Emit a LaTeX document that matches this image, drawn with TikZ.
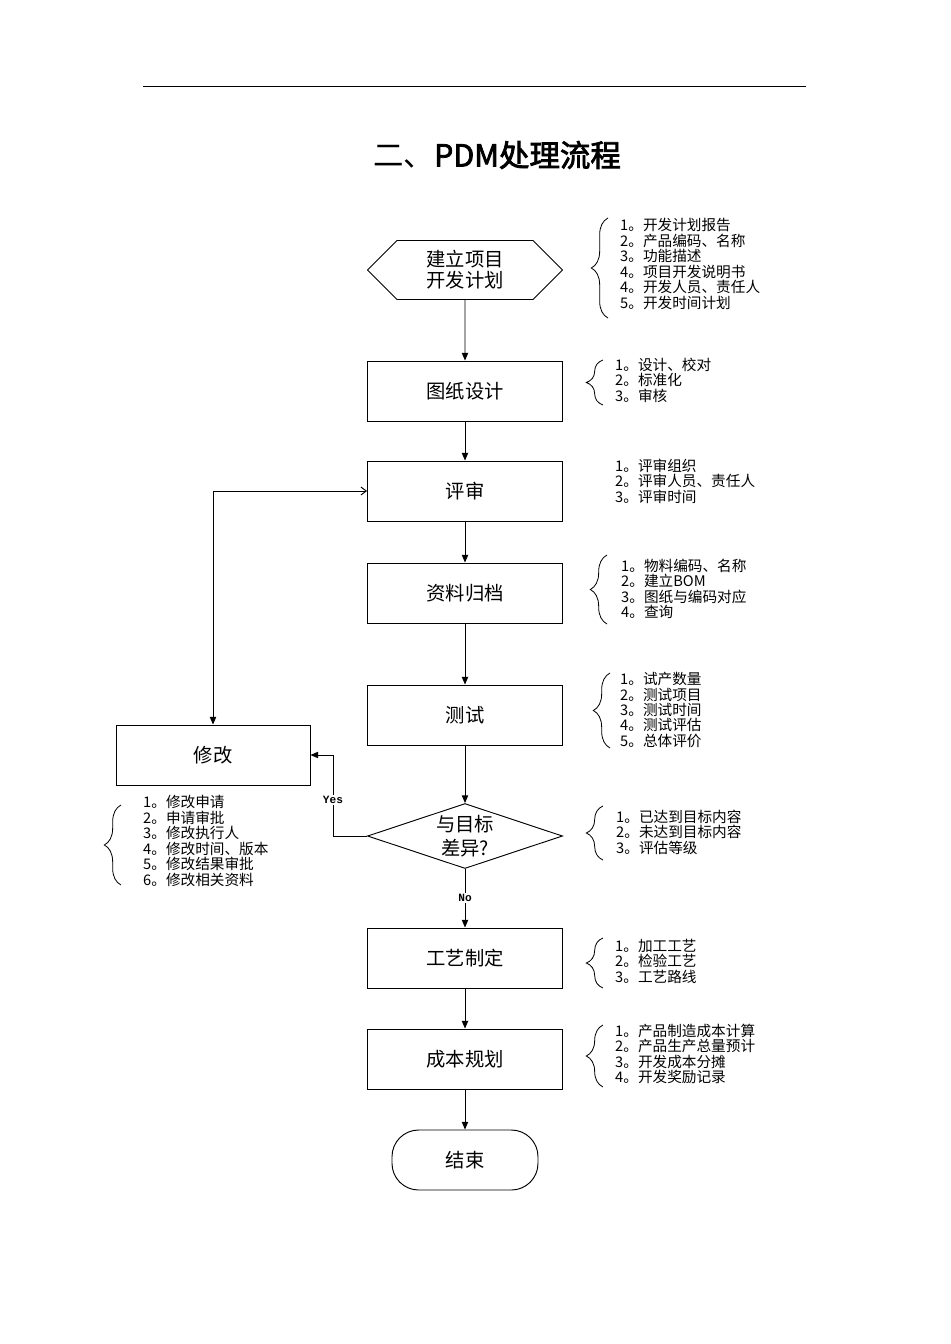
\documentclass[tikz,border=0pt]{standalone}
\usepackage{fontspec}
\setmainfont{Noto Sans CJK SC}[AutoFakeBold=2.5]
\newfontfamily\yesnofont{Liberation Mono}
\usetikzlibrary{shapes.geometric,shapes.symbols,arrows.meta,decorations.pathreplacing}
\begin{document}
\begin{tikzpicture}[x=0.03cm,y=-0.03cm,
        flowbox/.style={draw, line width=0.8pt, minimum width=5.85cm, minimum height=1.8cm,
                        align=center, font=\fontsize{16.5}{18}\selectfont},
        notes/.style={anchor=west, align=left, inner sep=0pt,
                        font=\fontsize{12.5}{13.2}\selectfont},
        curly/.style={decorate, line width=0.7pt, decoration={brace, amplitude=0.5cm}},
        arr/.style={-{Triangle[length=2.3mm,width=1.9mm]}, line width=0.8pt},
        yesno/.style={fill=white, inner sep=1pt, font=\yesnofont\bfseries\fontsize{9.5}{10}\selectfont}]
        \useasboundingbox (0,0) rectangle (950,1344);
        % header
        \draw [line width=0.8pt] (143,86) -- (806,86);
        \node (title) at (497,155) {\fontsize{26}{28}\selectfont 二、\textbf{PDM处理流程}};
        % main flow
        \node [flowbox, shape=signal, signal to=west and east, signal pointer angle=90,
               minimum height=1.77cm] (plan) at (465,270) {建立项目\\开发计划};
        \node [flowbox] (design) at (465,391) {图纸设计};
        \node [flowbox] (review) at (465,491) {评审};
        \node [flowbox] (archive) at (465,593) {资料归档};
        \node [flowbox] (test) at (465,715) {测试};
        \node [flowbox, shape=diamond, aspect=3, inner sep=0pt, minimum height=1.95cm,
               font=\fontsize{16.5}{20}\selectfont] (diff) at (465,836) {与目标\\差异?};
        \node [flowbox] (craft) at (465,958) {工艺制定};
        \node [flowbox] (cost) at (465,1059) {成本规划};
        \node [flowbox, rounded corners=0.8cm, minimum width=4.38cm] (finish) at (465,1160) {结束};
        \node [flowbox, minimum width=5.82cm] (modify) at (213,755) {修改};
        \coordinate (yesturn) at (333,836);
        \draw [arr] (plan) -- (design);
        \draw [arr] (design) -- (review);
        \draw [arr] (review) -- (archive);
        \draw [arr] (archive) -- (test);
        \draw [arr] (test) -- (diff);
        \draw [arr] (diff) -- node[yesno] {No} (craft);
        \draw [arr] (craft) -- (cost);
        \draw [arr] (cost) -- (finish);
        \draw [arr] (diff.west) -- (yesturn) |- node[yesno, pos=0.22] {Yes} (modify.east);
        \draw [{Triangle[length=2.3mm,width=1.9mm]}-{Straight Barb[length=1.6mm,width=2.4mm]},
               line width=0.8pt] (modify.north) |- (review.west);
        % side notes
        \draw [curly] (608,318) -- (608,218);
        \node [notes] (plannotes) at (620,264) {1。开发计划报告\\2。产品编码、名称\\3。功能描述\\4。项目开发说明书\\4。开发人员、责任人\\5。开发时间计划};
        \draw [curly] (603,405) -- (603,360);
        \node [notes] (designnotes) at (615,380) {1。设计、校对\\2。标准化\\3。审核};
        \node [notes] (reviewnotes) at (615,481) {1。评审组织\\2。评审人员、责任人\\3。评审时间};
        \draw [curly] (607,624) -- (607,555);
        \node [notes] (archivenotes) at (621,589) {1。物料编码、名称\\2。建立BOM\\3。图纸与编码对应\\4。查询};
        \draw [curly] (610,748) -- (610,673);
        \node [notes] (testnotes) at (620,710) {1。试产数量\\2。测试项目\\3。测试时间\\4。测试评估\\5。总体评价};
        \draw [curly] (121,885) -- (121,805);
        \node [notes] (modifynotes) at (143,841) {1。修改申请\\2。申请审批\\3。修改执行人\\4。修改时间、版本\\5。修改结果审批\\6。修改相关资料};
        \draw [curly] (603,860) -- (603,806);
        \node [notes] (diffnotes) at (616,832) {1。已达到目标内容\\2。未达到目标内容\\3。评估等级};
        \draw [curly] (603,988) -- (603,938);
        \node [notes] (craftnotes) at (615,961) {1。加工工艺\\2。检验工艺\\3。工艺路线};
        \draw [curly] (603,1087) -- (603,1025);
        \node [notes] (costnotes) at (615,1054) {1。产品制造成本计算\\2。产品生产总量预计\\3。开发成本分摊\\4。开发奖励记录};
\end{tikzpicture}
\end{document}
